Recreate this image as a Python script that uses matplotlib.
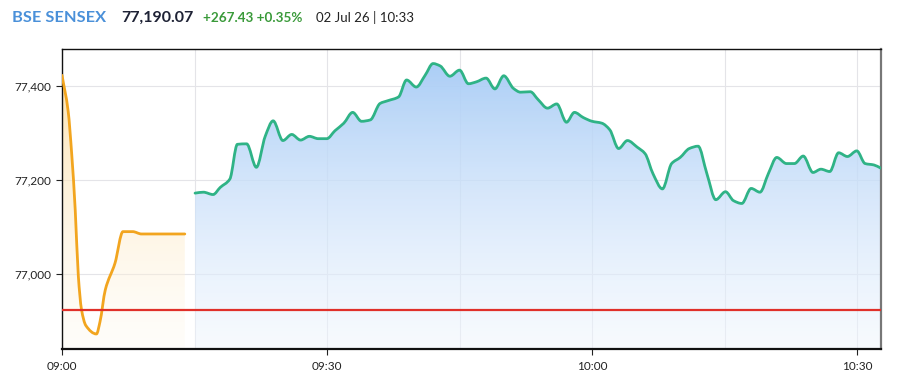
import matplotlib
matplotlib.use("Agg")
import matplotlib.pyplot as plt
import numpy as np
from matplotlib.path import Path
from matplotlib.patches import PathPatch

# ---- data (minutes after 09:00, index value) ----
pre_t = [0, 0.7, 1.1, 1.5, 1.85, 2.2, 2.7, 3.9, 4.3, 4.9, 6.0, 6.9, 8.0, 9.0, 13.9]
pre_v = [77423, 77346, 77255, 77135, 76995, 76925, 76890, 76872, 76898, 76966,
         77023, 77090, 77090, 77085, 77085]

live_t = [15.06, 16.0, 17.1, 17.9, 19.0, 19.85, 20.9, 22.0, 23.0, 23.9, 25.0, 26.0,
          27.0, 28.0, 29.0, 29.97, 30.9, 31.9, 32.9, 33.9, 34.9, 36.0, 36.9, 38.1,
          39.0, 40.1, 41.1, 42.0, 42.8, 43.9, 45.0, 46.0, 46.9, 48.0, 49.0, 50.0,
          51.1, 51.9, 53.0, 53.9, 54.95, 56.0, 57.1, 58.0, 59.0, 60.0, 61.1, 62.0,
          63.0, 64.0, 65.1, 66.0, 66.9, 67.96, 69.0, 69.97, 71.0, 72.0, 73.0, 74.0,
          75.1, 76.0, 76.95, 78.0, 79.0, 79.96, 80.9, 82.0, 82.9, 83.9, 85.0, 85.9,
          86.9, 87.9, 88.9, 89.96, 90.9, 91.9, 92.7]
live_v = [77172, 77174, 77169, 77184, 77202, 77276, 77277, 77227, 77293, 77326, 77284,
          77297, 77285, 77293, 77288, 77288, 77305, 77321, 77344, 77325, 77328, 77363,
          77369, 77377, 77413, 77398, 77423, 77448, 77443, 77421, 77434, 77405, 77409,
          77417, 77394, 77422, 77395, 77387, 77388, 77371, 77353, 77362, 77323, 77344,
          77333, 77325, 77321, 77307, 77267, 77284, 77270, 77256, 77213, 77181, 77235,
          77248, 77267, 77272, 77213, 77158, 77175, 77156, 77150, 77182, 77174, 77214,
          77248, 77235, 77235, 77251, 77216, 77223, 77218, 77258, 77250, 77262, 77235,
          77232, 77225]

prev_close = 76922.64
y_ticks = [77000, 77200, 77400]
y_tick_labels = ["77,000", "77,200", "77,400"]
x_ticks = [0, 30, 60, 90]
x_tick_labels = ["09:00", "09:30", "10:00", "10:30"]
x_grid = [0, 15, 30, 45, 60, 75, 90]

plt.rcParams['font.family'] = ['Lato', 'DejaVu Sans']

fig = plt.figure(figsize=(9.05, 3.88), dpi=100)
ax = fig.add_axes([62/905, 39/388, 819/905, 300/388])
XMIN, XMAX = 0, 92.7
YMIN, YMAX = 76840, 77479
ax.set_xlim(XMIN, XMAX)
ax.set_ylim(YMIN, YMAX)

for g in x_grid:
    ax.axvline(g, color="#e4e4e8", lw=0.8, zorder=0)
for g in y_ticks:
    ax.axhline(g, color="#e4e4e8", lw=0.8, zorder=0)


def smooth_path(t, v, close=False):
    """Monotone cubic (Fritsch-Carlson) bezier path through the data points."""
    x = np.asarray(t, float)
    y = np.asarray(v, float)
    n = len(x)
    h = np.diff(x)
    d = np.diff(y) / h
    m = np.zeros(n)
    m[0], m[-1] = d[0], d[-1]
    for i in range(1, n - 1):
        if d[i - 1] * d[i] <= 0:
            m[i] = 0
        else:
            w1 = 2 * h[i] + h[i - 1]
            w2 = h[i] + 2 * h[i - 1]
            m[i] = (w1 + w2) / (w1 / d[i - 1] + w2 / d[i])
    verts = [(x[0], y[0])]
    codes = [Path.MOVETO]
    for i in range(n - 1):
        verts += [(x[i] + h[i] / 3, y[i] + m[i] * h[i] / 3),
                  (x[i + 1] - h[i] / 3, y[i + 1] - m[i + 1] * h[i] / 3),
                  (x[i + 1], y[i + 1])]
        codes += [Path.CURVE4] * 3
    if close:
        verts += [(x[-1], YMIN), (x[0], YMIN), (x[0], y[0])]
        codes += [Path.LINETO, Path.LINETO, Path.CLOSEPOLY]
    return Path(verts, codes)


def gradient_fill(t, v, c_top, c_bot, a_top, a_bot):
    path = smooth_path(t, v, close=True)
    clip = PathPatch(path, transform=ax.transData, fc="none", ec="none")
    ax.add_patch(clip)
    n = 256
    ct = np.array(matplotlib.colors.to_rgb(c_top))
    cb = np.array(matplotlib.colors.to_rgb(c_bot))
    f = np.linspace(1, 0, n)
    rgba = np.zeros((n, 1, 4))
    rgba[:, 0, :3] = cb + (ct - cb) * f[:, None]
    rgba[:, 0, 3] = a_bot + (a_top - a_bot) * f
    im = ax.imshow(rgba, aspect="auto", extent=[min(t), max(t), YMIN, YMAX],
                   origin="upper", zorder=1, interpolation="bilinear")
    im.set_clip_path(clip)


gradient_fill(pre_t, pre_v, "#fcd894", "#fffaf0", 0.8, 0.3)
gradient_fill(live_t, live_v, "#a6cbf6", "#f1f7fe", 1.0, 0.5)

ax.set_xlim(XMIN, XMAX)
ax.set_ylim(YMIN, YMAX)

ax.add_patch(PathPatch(smooth_path(pre_t, pre_v), fc="none", ec="#f2a51f", lw=2.0,
                       joinstyle="round", capstyle="round", zorder=3))
ax.add_patch(PathPatch(smooth_path(live_t, live_v), fc="none", ec="#2fb386", lw=2.0,
                       joinstyle="round", capstyle="round", zorder=3))
ax.axhline(prev_close, color="#e0302a", lw=1.6, zorder=4)

ax.set_xticks(x_ticks)
ax.set_xticklabels(x_tick_labels)
ax.set_yticks(y_ticks)
ax.set_yticklabels(y_tick_labels)
ax.tick_params(axis="both", labelsize=8.5, colors="#222222", length=4, width=0.8,
               pad=4)
ax.tick_params(axis="x", pad=5)

for s in ["left", "bottom", "top"]:
    ax.spines[s].set_color("#111111")
ax.spines["top"].set_linewidth(1.0)
ax.spines["left"].set_linewidth(1.0)
ax.spines["bottom"].set_linewidth(1.6)
ax.spines["right"].set_color("#777777")
ax.spines["right"].set_linewidth(1.6)

yh = 1 - 17.5/388
fig.text(12/905, yh, "BSE SENSEX", color="#4a90d9", fontsize=11.8,
         fontweight="bold", va="center", ha="left")
fig.text(121/905, yh, "77,190.07", color="#1e2235", fontsize=11.5,
         fontweight="bold", va="center", ha="left")
fig.text(203/905, yh, "+267.43 +0.35%", color="#3a9a3a", fontsize=9.7,
         fontweight="bold", va="center", ha="left")
fig.text(316/905, yh, "02 Jul 26 | 10:33", color="#222222", fontsize=9.5,
         va="center", ha="left")

fig.savefig("out.png", dpi=100, facecolor="white")
